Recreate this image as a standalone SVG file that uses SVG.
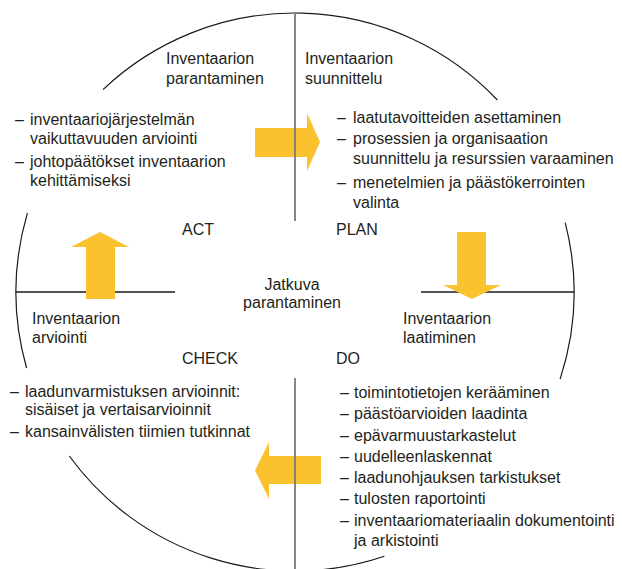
<svg xmlns="http://www.w3.org/2000/svg" width="622" height="569" viewBox="0 0 622 569">
<style>
text{font-family:"Liberation Sans",Arial,sans-serif;font-size:16px;fill:#231f20}
.arc{fill:none;stroke:#1a1a1a;stroke-width:1.2}
.hl{stroke:#1a1a1a;stroke-width:1.5}
.vl{stroke:#7a7a7a;stroke-width:1.8}
.arw{fill:#F9C22E}
.c{text-anchor:middle}
</style>
<rect width="622" height="569" fill="#fff"/>
<g id="connectors">
<path class="arc" d="M103,89.6 A279,279 0 0 1 497.4,100"/>
<path class="arc" d="M565.2,222.6 A279,279 0 0 1 560.1,379.1"/>
<path class="arc" d="M26.6,368 A279,279 0 0 1 27.4,213.2"/>
<path class="arc" d="M69.3,456 A279,279 0 0 0 384.4,556.3"/>
<line class="hl" x1="16" y1="292" x2="175" y2="292"/>
<line class="hl" x1="421" y1="292" x2="574" y2="292"/>
<polygon class="arw" points="255,128 307,128 307,113 320,142 307,171 307,157 255,157"/>
<polygon class="arw" points="321,456 269,456 269,442 255,470.5 269,499 269,484 321,484"/>
<polygon class="arw" points="86,299 86,247 71,247 100,232 129,247 115,247 115,299"/>
<polygon class="arw" points="457,232 486,232 486,285 501,285 472,299 443,285 457,285"/>
<line class="vl" x1="295" y1="14" x2="295" y2="221"/>
<line class="vl" x1="295" y1="378" x2="295" y2="569"/>
</g>
<g id="act-improve">
<text x="166" y="64">Inventaarion</text>
<text x="166" y="84">parantaminen</text>
<text x="15" y="125">–</text><text x="30" y="125">inventaariojärjestelmän</text>
<text x="30" y="144">vaikuttavuuden arviointi</text>
<text x="15" y="167">–</text><text x="30" y="167">johtopäätökset inventaarion</text>
<text x="30" y="186">kehittämiseksi</text>
</g>
<g id="plan">
<text x="305" y="64">Inventaarion</text>
<text x="305" y="84">suunnittelu</text>
<text x="337" y="123">–</text><text x="353" y="123">laatutavoitteiden asettaminen</text>
<text x="337" y="144">–</text><text x="353" y="144">prosessien ja organisaation</text>
<text x="353" y="164">suunnittelu ja resurssien varaaminen</text>
<text x="337" y="188">–</text><text x="353" y="188">menetelmien ja päästökerrointen</text>
<text x="353" y="208">valinta</text>
</g>
<g id="labels">
<text x="182" y="235">ACT</text>
<text x="336" y="235">PLAN</text>
<text x="182" y="364">CHECK</text>
<text x="336" y="364">DO</text>
</g>
<g id="center">
<text class="c" x="292" y="290">Jatkuva</text>
<text class="c" x="292" y="308">parantaminen</text>
</g>
<g id="check-eval">
<text x="32" y="324">Inventaarion</text>
<text x="32" y="343">arviointi</text>
<text x="10" y="397">–</text><text x="25" y="397">laadunvarmistuksen arvioinnit:</text>
<text x="25" y="415">sisäiset ja vertaisarvioinnit</text>
<text x="10" y="437">–</text><text x="25" y="437">kansainvälisten tiimien tutkinnat</text>
</g>
<g id="do-compile">
<text x="403" y="324">Inventaarion</text>
<text x="403" y="343">laatiminen</text>
<text x="340" y="398">–</text><text x="354" y="398">toimintotietojen kerääminen</text>
<text x="340" y="419">–</text><text x="354" y="419">päästöarvioiden laadinta</text>
<text x="340" y="441">–</text><text x="354" y="441">epävarmuustarkastelut</text>
<text x="340" y="462">–</text><text x="354" y="462">uudelleenlaskennat</text>
<text x="340" y="483">–</text><text x="354" y="483">laadunohjauksen tarkistukset</text>
<text x="340" y="504">–</text><text x="354" y="504">tulosten raportointi</text>
<text x="340" y="526">–</text><text x="354" y="526">inventaariomateriaalin dokumentointi</text>
<text x="354" y="546">ja arkistointi</text>
</g>
</svg>
